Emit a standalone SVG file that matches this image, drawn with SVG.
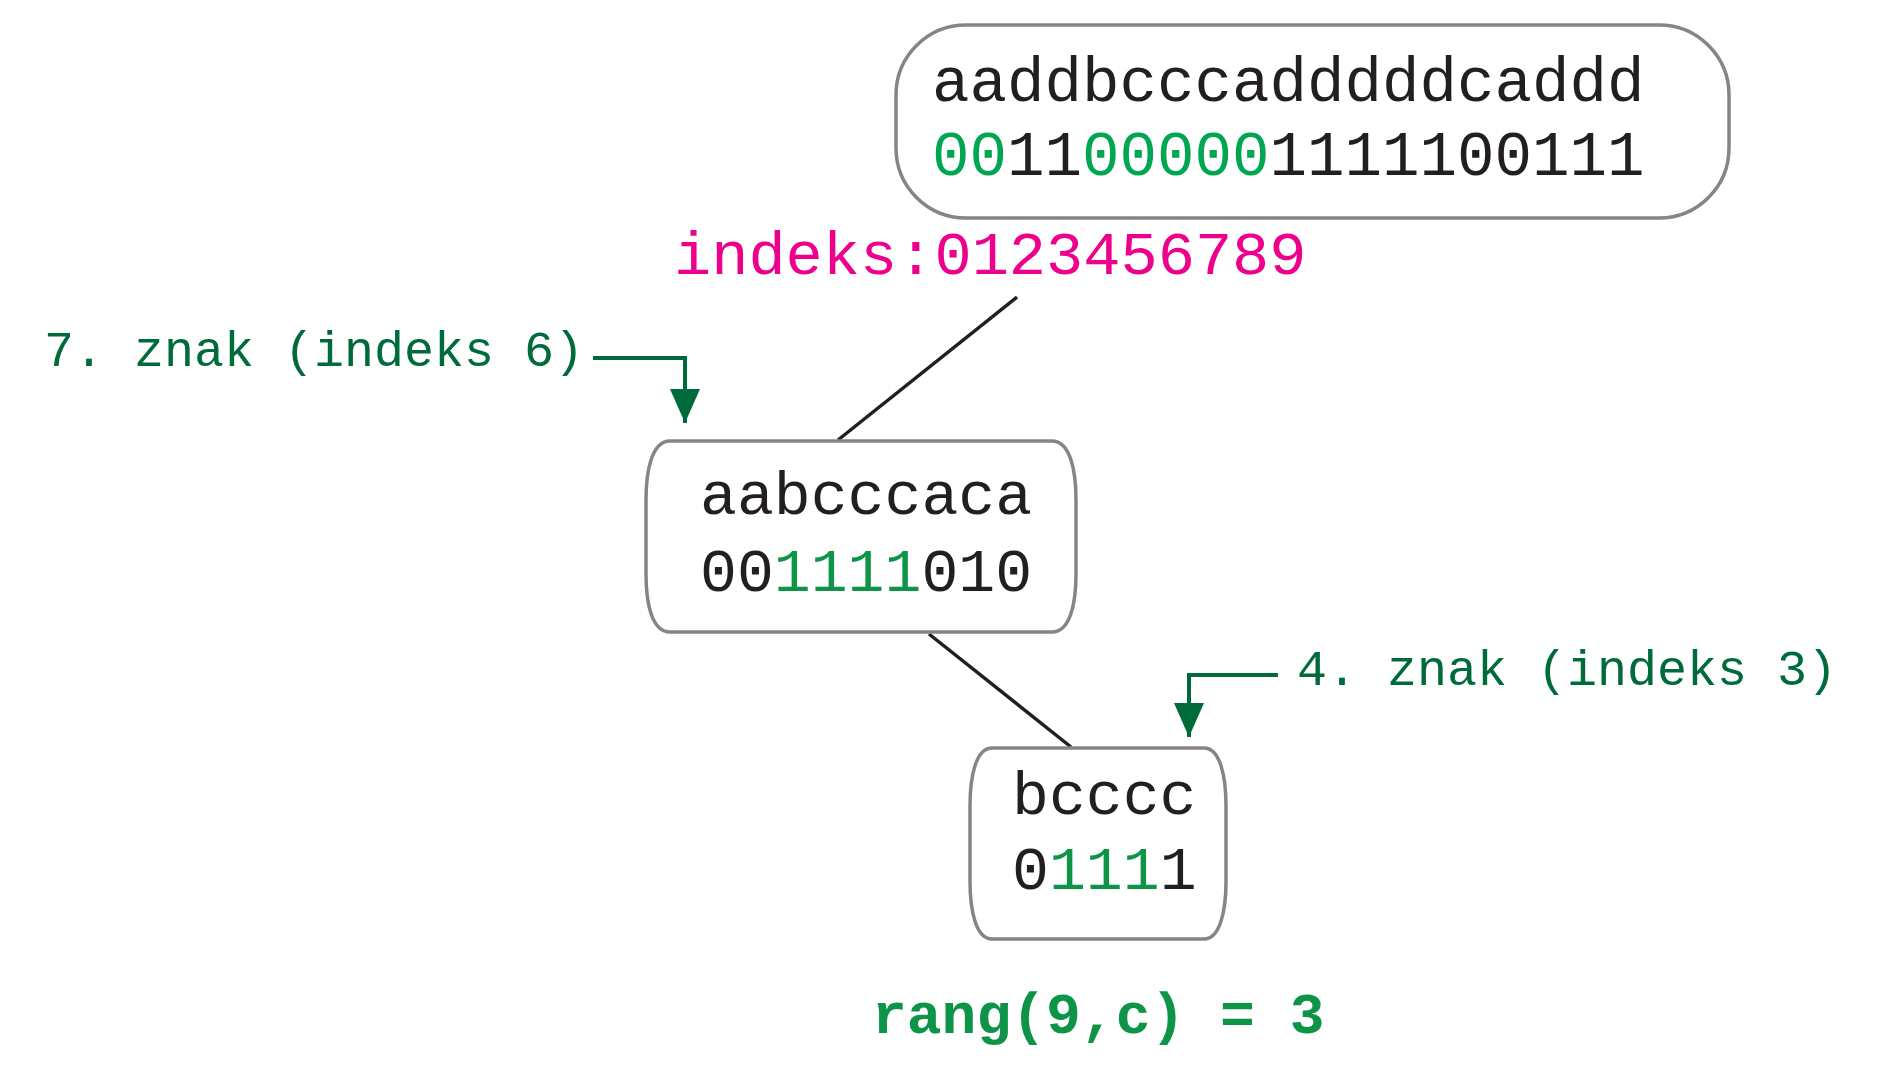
<svg xmlns="http://www.w3.org/2000/svg" width="1883" height="1070" viewBox="0 0 1883 1070">
<style>
.node{fill:#fff;stroke:#858585;stroke-width:3.5}
.t{font-family:"Liberation Mono","DejaVu Sans Mono",monospace;fill:#231f20}
.g1{fill:#00a651}
.g2{fill:#0e9447}
.pk{fill:#ec008c}
.lab{font-family:"Liberation Mono","DejaVu Sans Mono",monospace;fill:#006b3a;font-size:50px}
.edge{stroke:#231f20;stroke-width:3.5;fill:none}
.ptr{stroke:#006b3a;stroke-width:4;fill:none}
</style>
<defs>
<marker id="ah" viewBox="0 0 34 30" refX="34" refY="15" markerWidth="34" markerHeight="30" markerUnits="userSpaceOnUse" orient="auto">
<path d="M0,0 L34,15 L0,30 Z" fill="#006b3a"/>
</marker>
</defs>
<g id="connectors">
<line class="edge" x1="1017" y1="297" x2="838" y2="440"/>
<line class="edge" x1="929" y1="634" x2="1071" y2="747"/>
<polyline class="ptr" points="593,358 685,358 685,423" marker-end="url(#ah)"/>
<polyline class="ptr" points="1278,675 1189,675 1189,737" marker-end="url(#ah)"/>
</g>
<g id="node-root">
<rect class="node" x="896" y="25" width="833" height="193" rx="70" ry="70"/>
<text class="t" x="932" y="101" font-size="62.5">aaddbcccadddddcaddd</text>
<text class="t" x="932" y="175" font-size="62.5"><tspan class="g1">00</tspan>11<tspan class="g1">00000</tspan>1111100111</text>
</g>
<text class="t pk" x="674" y="274" font-size="62">indeks:0123456789</text>
<g id="node-mid">
<path class="node" d="M670,441 H1052 C1070,441 1076,470 1076,500 V574 C1076,604 1070,632 1052,632 H670 C652,632 646,604 646,574 V500 C646,470 652,441 670,441 Z"/>
<text class="t" x="700" y="514" font-size="61.5">aabcccaca</text>
<text class="t" x="700" y="591" font-size="61.5">00<tspan class="g2">1111</tspan>010</text>
</g>
<g id="node-leaf">
<path class="node" d="M992,748 H1204 C1220,748 1226,776 1226,806 V881 C1226,911 1220,939 1204,939 H992 C976,939 970,911 970,881 V806 C970,776 976,748 992,748 Z"/>
<text class="t" x="1012" y="814" font-size="61.5">bcccc</text>
<text class="t" x="1012" y="889" font-size="61.5">0<tspan class="g2">111</tspan>1</text>
</g>
<text class="lab" x="44" y="366">7. znak (indeks 6)</text>
<text class="lab" x="1297" y="685">4. znak (indeks 3)</text>
<text x="872" y="1033" font-family="Liberation Mono, DejaVu Sans Mono, monospace" font-weight="bold" font-size="58" fill="#0e9447">rang(9,c) = 3</text>
</svg>
